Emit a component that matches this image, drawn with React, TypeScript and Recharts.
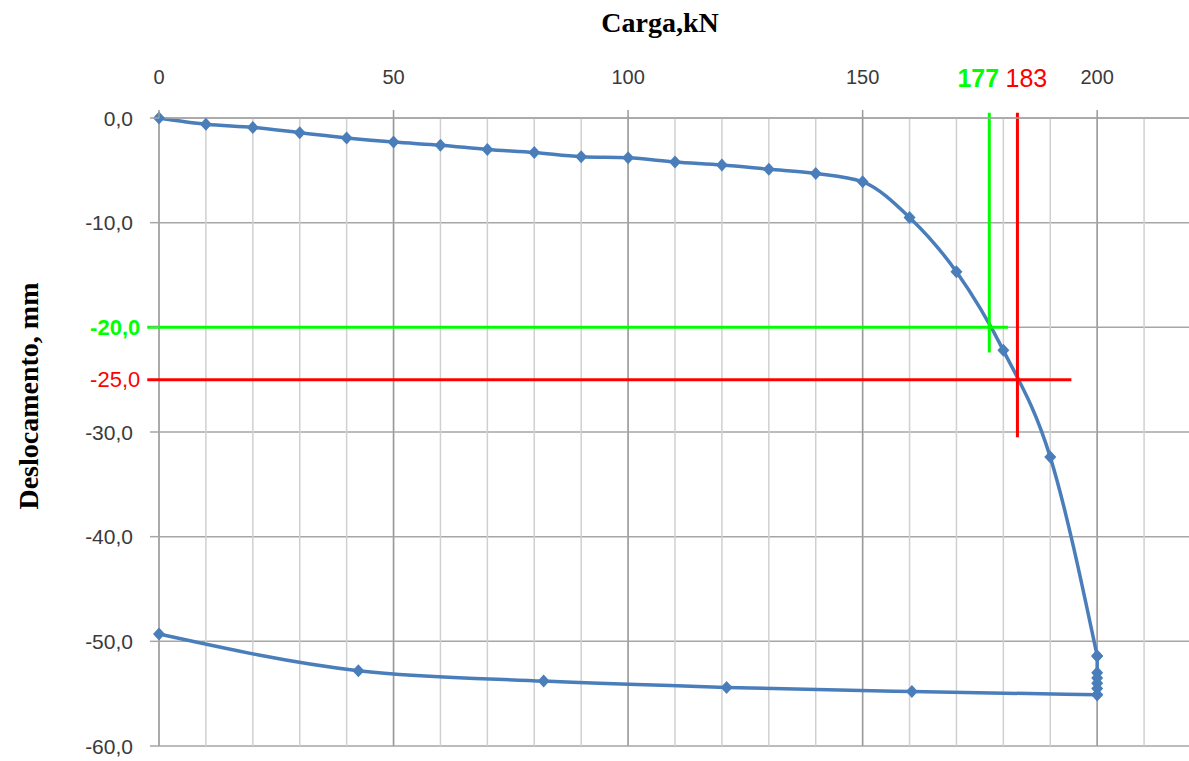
import React from 'react';
import { LineChart, Line, XAxis, YAxis, CartesianGrid, ReferenceLine } from 'recharts';

// load steps (kN) and settlement readings (mm)
const loadSteps = [0, 10, 20, 30, 40, 50, 60, 70, 80, 90, 100, 110, 120, 130, 140, 150, 160, 170, 180, 190, 200];
const loadDisp = [0, -0.6, -0.9, -1.4, -1.9, -2.3, -2.6, -3.0, -3.3, -3.7, -3.8, -4.2, -4.5, -4.9, -5.3, -6.1, -9.5, -14.7, -22.2, -32.4, -51.4];

// readings held at the maximum load
const holdSteps = [200, 200, 200, 200, 200, 200];
const holdDisp = [-51.4, -53.0, -53.5, -54.0, -54.5, -55.1];

// unloading branch
const unloadSteps = [0, 42.5, 82, 121, 160.5, 200];
const unloadDisp = [-49.3, -52.8, -53.8, -54.4, -54.8, -55.1];

const xTicks = [0, 10, 20, 30, 40, 50, 60, 70, 80, 90, 100, 110, 120, 130, 140, 150, 160, 170, 180, 190, 200, 210, 220];
const xLabels = [0, 50, 100, 150, 200];
const yTicks = [0, -10, -20, -30, -40, -50, -60];

// failure load read at two settlement criteria
const criteria = [
  { load: 177, disp: -20, color: '#00ff00', bold: true, hEnd: 181, vEnd: -22.4, dx: -11 },
  { load: 183, disp: -25, color: '#ff0000', bold: false, hEnd: 194.5, vEnd: -30.5, dx: 9 },
];
const lineStart = -2.5;
const lineTop = 0.5;

const BLUE = '#4a7ebb';
const SANS = '"Liberation Sans", Arial, sans-serif';
const SERIF = '"Liberation Serif", "Times New Roman", serif';

const toRows = (xs: number[], ys: number[]) => xs.map((x, i) => ({ x, y: ys[i] }));
const loadData = toRows(loadSteps, loadDisp);
const holdData = toRows(holdSteps, holdDisp);
const unloadData = toRows(unloadSteps, unloadDisp);

const fmt = (v: number) => v.toFixed(1).replace('.', ',');

const Diamond = (props: any) => {
  const { cx, cy, index } = props;
  if (cx == null || cy == null) return <g key={index} />;
  return (
    <path
      key={index}
      d={`M${cx},${cy - 6.5}L${cx + 6},${cy}L${cx},${cy + 6.5}L${cx - 6},${cy}Z`}
      fill={BLUE}
    />
  );
};

const LoadTick = (props: any) => {
  const { x, y, payload } = props;
  if (!xLabels.includes(payload.value)) return <g />;
  return (
    <g>
      <line x1={x} x2={x} y1={y - 8} y2={y} stroke="#999" strokeWidth={1.5} />
      <text x={x} y={y - 34} textAnchor="middle" fontSize={20} fontFamily={SANS} fill="#3a3a3a">
        {payload.value}
      </text>
    </g>
  );
};

const DispTick = (props: any) => {
  const { x, y, payload } = props;
  const hidden = criteria.some((c) => c.disp === payload.value);
  return (
    <g>
      <line x1={x - 9} x2={x} y1={y} y2={y} stroke="#a6a6a6" strokeWidth={1.5} />
      {!hidden && (
        <text x={x - 26} y={y} textAnchor="end" dominantBaseline="central" fontSize={21} fontFamily={SANS} fill="#3a3a3a">
          {fmt(payload.value)}
        </text>
      )}
    </g>
  );
};

const XTitle = (props: any) => {
  const { viewBox } = props;
  return (
    <text x={viewBox.x + viewBox.width / 2 - 15} y={viewBox.y + 32} textAnchor="middle" fontSize={28} fontWeight="bold" fontFamily={SERIF} fill="#000">
      Carga,kN
    </text>
  );
};

const YTitle = (props: any) => {
  const { viewBox } = props;
  const cx = viewBox.x + 28;
  const cy = viewBox.y + viewBox.height / 2 - 36;
  return (
    <text x={cx} y={cy} transform={`rotate(-90, ${cx}, ${cy})`} textAnchor="middle" dominantBaseline="central" fontSize={28} fontWeight="bold" fontFamily={SERIF} fill="#000">
      Deslocamento, mm
    </text>
  );
};

export default function App() {
  return (
    <div style={{ position: 'absolute', left: 0, top: 0, width: 1189, height: 761, overflow: 'hidden', background: '#fff' }}>
      <LineChart width={1200} height={761} margin={{ top: 0, right: 9, bottom: 15, left: 0 }}>
        <CartesianGrid vertical={false} stroke="#a6a6a6" strokeWidth={1.5} />
        <CartesianGrid horizontal={false} stroke="#d0d0d0" strokeWidth={1.5} />
        <XAxis
          type="number"
          dataKey="x"
          orientation="top"
          domain={[0, 220]}
          ticks={xTicks}
          interval={0}
          height={118}
          tickSize={0}
          tickMargin={0}
          tickLine={false}
          axisLine={{ stroke: '#a6a6a6', strokeWidth: 1.5 }}
          tick={<LoadTick />}
          label={<XTitle />}
        />
        <YAxis
          type="number"
          domain={[-60, 0]}
          ticks={yTicks}
          interval={0}
          width={159}
          tickSize={0}
          tickMargin={0}
          tickLine={false}
          axisLine={false}
          tick={<DispTick />}
          label={<YTitle />}
        />
        {xLabels.map((v) => (
          <ReferenceLine key={`major-${v}`} x={v} stroke="#9a9a9a" strokeWidth={1.5} />
        ))}
        <Line data={loadData} dataKey="y" type="monotone" stroke={BLUE} strokeWidth={3.5} dot={<Diamond />} activeDot={false} isAnimationActive={false} />
        <Line data={holdData} dataKey="y" type="linear" stroke={BLUE} strokeWidth={3.5} dot={<Diamond />} activeDot={false} isAnimationActive={false} />
        <Line data={unloadData} dataKey="y" type="monotone" stroke={BLUE} strokeWidth={3.5} dot={<Diamond />} activeDot={false} isAnimationActive={false} />
        {criteria.map((c) => (
          <ReferenceLine
            key={`h-${c.load}`}
            segment={[{ x: lineStart, y: c.disp }, { x: c.hEnd, y: c.disp }]}
            stroke={c.color}
            strokeWidth={3}
            ifOverflow="visible"
            label={(p: any) => (
              <text
                x={p.viewBox.x - 7}
                y={p.viewBox.y}
                textAnchor="end"
                dominantBaseline="central"
                fontSize={22}
                fontWeight={c.bold ? 'bold' : 'normal'}
                fontFamily={SANS}
                fill={c.color}
              >
                {fmt(c.disp)}
              </text>
            )}
          />
        ))}
        {criteria.map((c) => (
          <ReferenceLine
            key={`v-${c.load}`}
            segment={[{ x: c.load, y: lineTop }, { x: c.load, y: c.vEnd }]}
            stroke={c.color}
            strokeWidth={3}
            ifOverflow="visible"
            label={(p: any) => (
              <text
                x={p.viewBox.x + c.dx}
                y={p.viewBox.y - 26}
                textAnchor="middle"
                fontSize={25}
                fontWeight={c.bold ? 'bold' : 'normal'}
                fontFamily={SANS}
                fill={c.color}
              >
                {c.load}
              </text>
            )}
          />
        ))}
      </LineChart>
    </div>
  );
}
